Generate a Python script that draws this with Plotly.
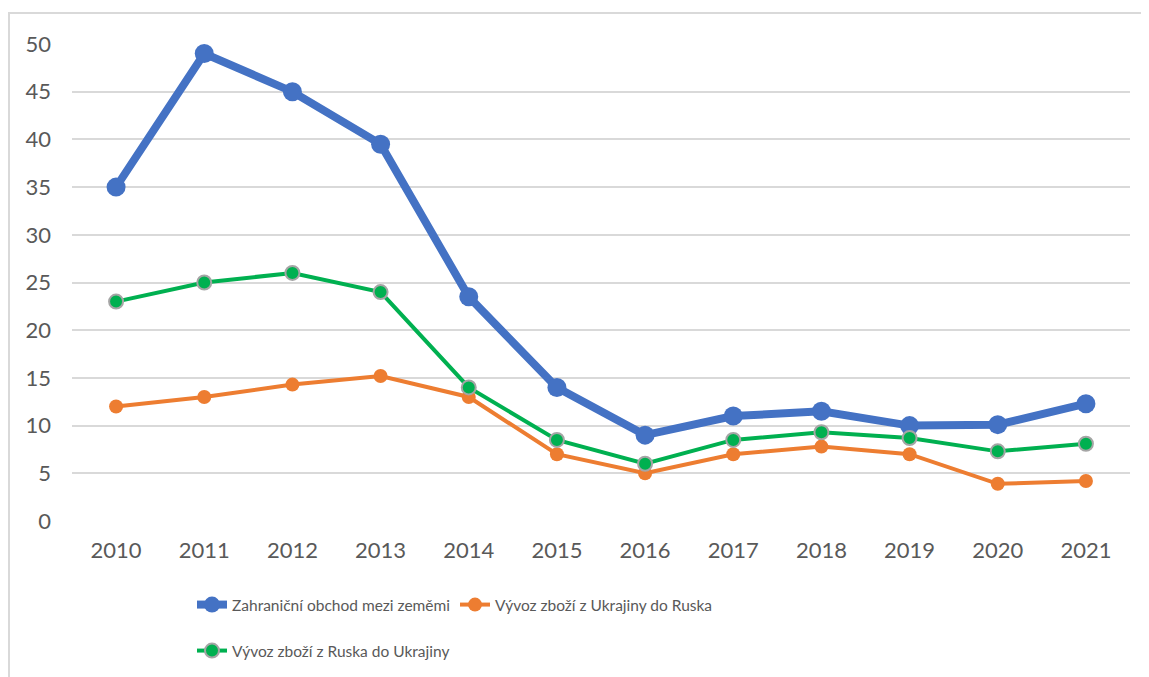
import plotly.graph_objects as go

YEARS = ["2010", "2011", "2012", "2013", "2014", "2015", "2016", "2017", "2018", "2019", "2020", "2021"]
TRADE_TOTAL = [35.0, 49.0, 45.0, 39.5, 23.5, 14.0, 9.0, 11.0, 11.5, 10.0, 10.1, 12.3]
EXPORT_UA_RU = [12.0, 13.0, 14.3, 15.2, 13.0, 7.0, 5.0, 7.0, 7.8, 7.0, 3.9, 4.2]
EXPORT_RU_UA = [23.0, 25.0, 26.0, 24.0, 14.0, 8.5, 6.0, 8.5, 9.3, 8.7, 7.3, 8.1]
Y_TICKS = [0, 5, 10, 15, 20, 25, 30, 35, 40, 45, 50]

NAMES = [
    "Zahraniční obchod mezi zeměmi",
    "Vývoz zboží z Ukrajiny do Ruska",
    "Vývoz zboží z Ruska do Ukrajiny",
]

BLUE = "#4472C4"
ORANGE = "#ED7D31"
GREEN = "#00B050"
GRID = "#D9D9D9"
TEXT = "#595959"
FONT = "Lato, Carlito, Calibri, sans-serif"

fig = go.Figure()

fig.add_trace(go.Scatter(
    x=YEARS, y=TRADE_TOTAL, name=NAMES[0], mode="lines+markers",
    line=dict(color=BLUE, width=8),
    marker=dict(color=BLUE, size=19),
    legend="legend",
))
fig.add_trace(go.Scatter(
    x=YEARS, y=EXPORT_UA_RU, name=NAMES[1], mode="lines+markers",
    line=dict(color=ORANGE, width=4),
    marker=dict(color=ORANGE, size=14),
    legend="legend",
))
fig.add_trace(go.Scatter(
    x=YEARS, y=EXPORT_RU_UA, name=NAMES[2], mode="lines+markers",
    line=dict(color=GREEN, width=4),
    marker=dict(color=GREEN, size=14, line=dict(color="#A5A5A5", width=2)),
    legend="legend2",
))

# page has an 8px body margin, so the figure is 1141x669 drawn from (8, 8)
# plot area in figure pixels: x 64..1122, y 36..513
L, R, T, B = 64, 19, 36, 156
W, H = 1141, 669
pw, ph = W - L - R, H - T - B

def px_x(p):
    return (p - L) / pw

def px_y(p):
    return (H - B - p) / ph

# outer chart border (top and left edges visible)
fig.add_shape(type="rect", xref="paper", yref="paper",
              x0=px_x(1), x1=px_x(1160), y0=px_y(700), y1=px_y(5),
              line=dict(color=GRID, width=2), layer="below")

legend_style = dict(
    orientation="h", xref="container", yref="container",
    xanchor="left", yanchor="top",
    font=dict(family=FONT, size=15.5, color=TEXT), itemwidth=30,
    bgcolor="rgba(0,0,0,0)",
)

fig.update_layout(
    width=W, height=H,
    margin=dict(l=L, r=R, t=T, b=B, autoexpand=False),
    paper_bgcolor="white", plot_bgcolor="white",
    font=dict(family=FONT, size=22, color=TEXT),
    xaxis=dict(
        type="category", range=[-0.5, 11.5],
        showgrid=False, zeroline=False, showline=False,
        ticks="", ticklabelstandoff=14,
        tickfont=dict(size=22, color=TEXT),
    ),
    yaxis=dict(
        range=[0, 50], tickvals=Y_TICKS,
        showgrid=True, gridcolor=GRID, gridwidth=1.5,
        zeroline=False, showline=False,
        ticks="", ticklabelstandoff=20,
        tickfont=dict(size=22, color=TEXT),
    ),
    legend=dict(legend_style, x=184 / W, y=1 - 580 / H),
    legend2=dict(legend_style, x=184 / W, y=1 - 626 / H),
    showlegend=True,
)

fig.write_html("out.html")
